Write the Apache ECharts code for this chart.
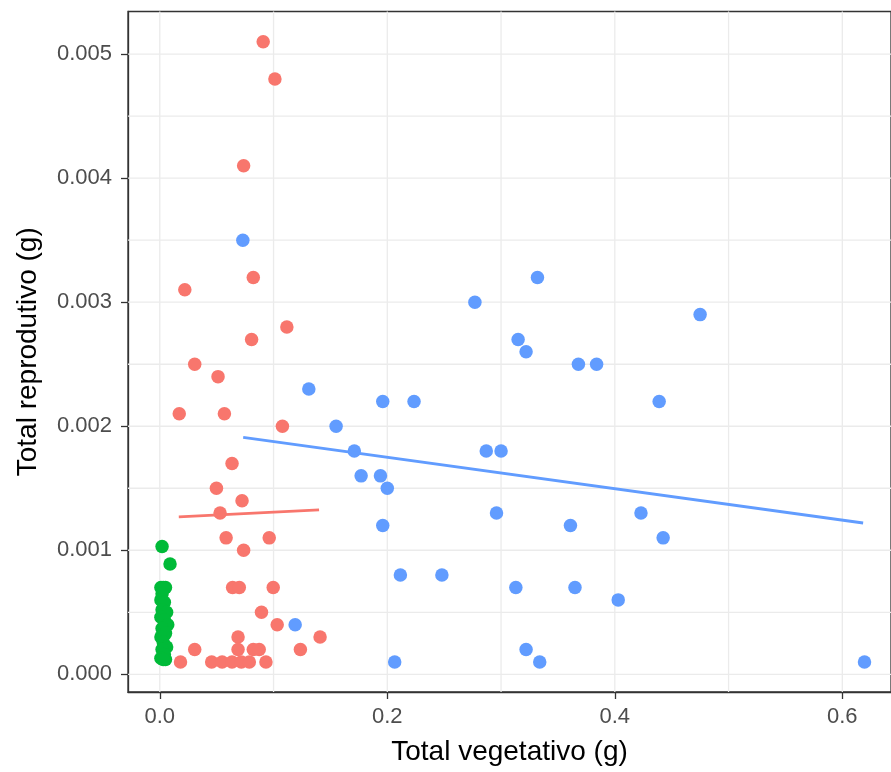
<!DOCTYPE html>
<html>
<head>
<meta charset="utf-8">
<script src="https://cdn.jsdelivr.net/npm/echarts@6/dist/echarts.min.js"></script>
<style>
  html, body { margin: 0; padding: 0; background: #fff; }
  #chart { width: 891px; height: 772px; }
</style>
</head>
<body>
<div id="chart"></div>
<script>
// group 1 (red)
const redPoints = [
  [0.0909, 0.0051], [0.1012, 0.0048], [0.0737, 0.0041], [0.0822, 0.0032], [0.0220, 0.0031],
  [0.1117, 0.0028], [0.0807, 0.0027], [0.0307, 0.0025], [0.0512, 0.0024], [0.0171, 0.0021],
  [0.0568, 0.0021], [0.1078, 0.0020], [0.0635, 0.0017], [0.0498, 0.0015], [0.0723, 0.0014],
  [0.0530, 0.0013], [0.0583, 0.0011], [0.0962, 0.0011], [0.0737, 0.0010], [0.0640, 0.0007],
  [0.0699, 0.0007], [0.0997, 0.0007], [0.0894, 0.0005], [0.1032, 0.0004], [0.1409, 0.0003],
  [0.0688, 0.0003], [0.0688, 0.0002], [0.0822, 0.0002], [0.0874, 0.0002], [0.0307, 0.0002],
  [0.1236, 0.0002], [0.0182, 0.0001], [0.0456, 0.0001], [0.0548, 0.0001], [0.0635, 0.0001],
  [0.0717, 0.0001], [0.0787, 0.0001], [0.0933, 0.0001]
];
// group 2 (green)
const greenPoints = [
  [0.002, 0.00103], [0.009, 0.00089], [0.001, 0.0007], [0.005, 0.0007], [0.003, 0.0007],
  [0.002, 0.00065], [0.001, 0.0006], [0.004, 0.00058], [0.002, 0.00052], [0.006, 0.0005],
  [0.001, 0.00046], [0.004, 0.00044], [0.007, 0.0004], [0.002, 0.00037], [0.005, 0.00033],
  [0.001, 0.0003], [0.003, 0.00026], [0.006, 0.00022], [0.002, 0.0002], [0.004, 0.00016],
  [0.001, 0.00013], [0.005, 0.00012], [0.003, 0.00012]
];
// group 3 (blue)
const bluePoints = [
  [0.073, 0.0035], [0.131, 0.0023], [0.155, 0.0020], [0.171, 0.0018], [0.177, 0.0016],
  [0.119, 0.0004], [0.332, 0.0032], [0.277, 0.0030], [0.315, 0.0027], [0.322, 0.0026],
  [0.368, 0.0025], [0.384, 0.0025], [0.196, 0.0022], [0.2235, 0.0022], [0.287, 0.0018],
  [0.300, 0.0018], [0.194, 0.0016], [0.200, 0.0015], [0.196, 0.0012], [0.296, 0.0013],
  [0.361, 0.0012], [0.2115, 0.0008], [0.248, 0.0008], [0.313, 0.0007], [0.365, 0.0007],
  [0.403, 0.0006], [0.322, 0.0002], [0.334, 0.0001], [0.2065, 0.0001], [0.475, 0.0029],
  [0.439, 0.0022], [0.423, 0.0013], [0.4425, 0.0011], [0.6195, 0.0001]
];
// fitted lines (lm), endpoints
const redFit = [[0.0167, 0.00127], [0.140, 0.001325]];
const blueFit = [[0.0733, 0.00191], [0.6183, 0.00122]];

const xTicks = [0, 0.2, 0.4, 0.6];
const xMinor = [0.1, 0.3, 0.5];
const yTicks = [0, 0.001, 0.002, 0.003, 0.004, 0.005];
const yMinor = [0.0005, 0.0015, 0.0025, 0.0035, 0.0045];

const X_MIN = -0.02795, X_MAX = 0.6428;
const Y_MIN = -0.0001427, Y_MAX = 0.005344;

const RED = '#F8766D', GREEN = '#00BA38', BLUE = '#619CFF';
const FONT = '"Liberation Sans", Arial, sans-serif';

const chart = echarts.init(document.getElementById('chart'));

// panel grid lines, drawn as broken line series through the axes
const vGrid = [];
[...xTicks, ...xMinor].forEach((v) => {
  vGrid.push([v, Y_MIN], [v, Y_MAX], ['-', '-']);
});
const hGrid = [];
[...yTicks, ...yMinor].forEach((v) => {
  hGrid.push([X_MIN, v], [X_MAX, v], ['-', '-']);
});

function gridSeries(data) {
  return {
    type: 'line',
    data,
    showSymbol: false,
    silent: true,
    connectNulls: false,
    lineStyle: {color: '#EBEBEB', width: 1.3},
    z: 1,
  };
}

function pts(data, color) {
  return {
    type: 'scatter',
    data,
    symbol: 'circle',
    symbolSize: 13.5,
    itemStyle: {color, opacity: 1},
    z: 3,
  };
}

chart.setOption({
  animation: false,
  grid: {
    left: 128,
    top: 11.5,
    right: -3,
    bottom: 80,
    show: true,
    borderColor: '#333333',
    borderWidth: 1.3,
    backgroundColor: '#fff',
  },
  xAxis: {
    type: 'value',
    min: X_MIN,
    max: X_MAX,
    name: 'Total vegetativo (g)',
    nameLocation: 'middle',
    nameGap: 46,
    nameTextStyle: {fontFamily: FONT, fontSize: 28, color: '#000'},
    axisLine: {show: true, onZero: false, lineStyle: {color: '#333333', width: 1.3}},
    axisTick: {show: true, length: 7, customValues: xTicks, lineStyle: {color: '#333333', width: 1.3}},
    axisLabel: {
      customValues: xTicks,
      margin: 14,
      fontFamily: FONT,
      fontSize: 22,
      color: '#4D4D4D',
      formatter: (v) => Number(v).toFixed(1),
    },
    splitLine: {show: false},
  },
  yAxis: {
    type: 'value',
    min: Y_MIN,
    max: Y_MAX,
    name: 'Total reprodutivo (g)',
    nameLocation: 'middle',
    nameGap: 86,
    nameTextStyle: {fontFamily: FONT, fontSize: 28, color: '#000'},
    axisLine: {show: true, onZero: false, lineStyle: {color: '#333333', width: 1.3}},
    axisTick: {show: true, length: 7, customValues: yTicks, lineStyle: {color: '#333333', width: 1.3}},
    axisLabel: {
      customValues: yTicks,
      margin: 16,
      fontFamily: FONT,
      fontSize: 22,
      color: '#4D4D4D',
      formatter: (v) => Number(v).toFixed(3),
    },
    splitLine: {show: false},
  },
  series: [
    gridSeries(vGrid),
    gridSeries(hGrid),
    pts(redPoints, RED),
    pts(greenPoints, GREEN),
    pts(bluePoints, BLUE),
    {
      type: 'line',
      data: redFit,
      showSymbol: false,
      lineStyle: {color: RED, width: 2.8},
      z: 4,
    },
    {
      type: 'line',
      data: blueFit,
      showSymbol: false,
      lineStyle: {color: BLUE, width: 2.8},
      z: 4,
    },
  ],
});
</script>
</body>
</html>
